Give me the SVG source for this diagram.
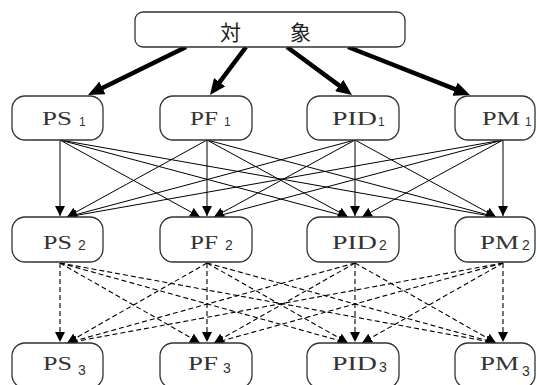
<svg xmlns="http://www.w3.org/2000/svg" width="537" height="385" viewBox="0 0 537 385">
<style>
.box{fill:#fff;stroke:#333;stroke-width:1.3}
.lbl{font-family:"Liberation Serif",serif;font-size:19px;fill:#333}
.sub{font-family:"Liberation Sans",sans-serif;fill:#333}
.s1{font-size:12px}
.s2{font-size:14px}
.cjk{font-family:"Noto Sans CJK JP",sans-serif;font-size:21px;fill:#222}
.bold{stroke:#000;stroke-width:4.5;fill:none;marker-end:url(#big)}
.thin{stroke:#000;stroke-width:1;fill:none;marker-end:url(#tri)}
.dash{stroke:#000;stroke-width:1.1;fill:none;stroke-dasharray:5 3;marker-end:url(#tri)}
</style>
<defs>
<marker id="tri" markerUnits="userSpaceOnUse" markerWidth="10" markerHeight="10" viewBox="0 0 10 10" refX="10" refY="5" orient="auto"><path d="M0,0 L10,5 L0,10 z" fill="#000"/></marker>
<marker id="big" markerUnits="userSpaceOnUse" markerWidth="16" markerHeight="14" viewBox="0 0 16 14" refX="4" refY="7" orient="auto"><path d="M0,0 L16,7 L0,14 z" fill="#000"/></marker>
</defs>
<rect width="537" height="385" fill="#fff"/>
<g id="connectors">
<line class="bold" x1="186" y1="47" x2="98.8" y2="89.7"/>
<line class="bold" x1="246" y1="47" x2="217.2" y2="85.4"/>
<line class="bold" x1="287" y1="47" x2="342.4" y2="87.9"/>
<line class="bold" x1="348" y1="47" x2="458.8" y2="90.6"/>
<line class="thin" x1="60" y1="140" x2="60" y2="216"/>
<line class="thin" x1="60" y1="140" x2="200" y2="217"/>
<line class="thin" x1="60" y1="140" x2="348" y2="217"/>
<line class="thin" x1="60" y1="140" x2="496" y2="217"/>
<line class="thin" x1="207" y1="140" x2="67" y2="217"/>
<line class="thin" x1="207" y1="140" x2="207" y2="216"/>
<line class="thin" x1="207" y1="140" x2="348" y2="217"/>
<line class="thin" x1="207" y1="140" x2="496" y2="217"/>
<line class="thin" x1="355" y1="140" x2="67" y2="217"/>
<line class="thin" x1="355" y1="140" x2="214" y2="217"/>
<line class="thin" x1="355" y1="140" x2="355" y2="216"/>
<line class="thin" x1="355" y1="140" x2="496" y2="217"/>
<line class="thin" x1="503" y1="140" x2="67" y2="217"/>
<line class="thin" x1="503" y1="140" x2="214" y2="217"/>
<line class="thin" x1="503" y1="140" x2="362" y2="217"/>
<line class="thin" x1="503" y1="140" x2="503" y2="216"/>
<line class="dash" x1="60" y1="263" x2="60" y2="342"/>
<line class="dash" x1="60" y1="263" x2="200" y2="343"/>
<line class="dash" x1="60" y1="263" x2="348" y2="343"/>
<line class="dash" x1="60" y1="263" x2="496" y2="343"/>
<line class="dash" x1="207" y1="263" x2="67" y2="343"/>
<line class="dash" x1="207" y1="263" x2="207" y2="342"/>
<line class="dash" x1="207" y1="263" x2="348" y2="343"/>
<line class="dash" x1="207" y1="263" x2="496" y2="343"/>
<line class="dash" x1="355" y1="263" x2="67" y2="343"/>
<line class="dash" x1="355" y1="263" x2="214" y2="343"/>
<line class="dash" x1="355" y1="263" x2="355" y2="342"/>
<line class="dash" x1="355" y1="263" x2="496" y2="343"/>
<line class="dash" x1="503" y1="263" x2="67" y2="343"/>
<line class="dash" x1="503" y1="263" x2="214" y2="343"/>
<line class="dash" x1="503" y1="263" x2="362" y2="343"/>
<line class="dash" x1="503" y1="263" x2="503" y2="342"/>
</g>
<g id="top">
<rect class="box" x="135" y="12" width="270" height="35" rx="8"/>
<text class="cjk" x="220 290" y="40">対象</text>
</g>
<g id="PS1"><rect class="box" x="12" y="96" width="91" height="44" rx="13"/><text class="lbl" x="42" y="125" textLength="30" lengthAdjust="spacingAndGlyphs">PS</text><text class="sub s1" x="79" y="126">1</text></g>
<g id="PF1"><rect class="box" x="160" y="96" width="92" height="44" rx="13"/><text class="lbl" x="190" y="125" textLength="28" lengthAdjust="spacingAndGlyphs">PF</text><text class="sub s1" x="224" y="126">1</text></g>
<g id="PID1"><rect class="box" x="307" y="96" width="92" height="44" rx="13"/><text class="lbl" x="332" y="125" textLength="45" lengthAdjust="spacingAndGlyphs">PID</text><text class="sub s1" x="378" y="126">1</text></g>
<g id="PM1"><rect class="box" x="455" y="96" width="80" height="44" rx="13"/><text class="lbl" x="482" y="125" textLength="38" lengthAdjust="spacingAndGlyphs">PM</text><text class="sub s1" x="525" y="126">1</text></g>
<g id="PS2"><rect class="box" x="12" y="217" width="91" height="45" rx="13"/><text class="lbl" x="43" y="249" textLength="29" lengthAdjust="spacingAndGlyphs">PS</text><text class="sub s2" x="78" y="250">2</text></g>
<g id="PF2"><rect class="box" x="160" y="217" width="92" height="45" rx="13"/><text class="lbl" x="190" y="249" textLength="28" lengthAdjust="spacingAndGlyphs">PF</text><text class="sub s2" x="225" y="250">2</text></g>
<g id="PID2"><rect class="box" x="307" y="217" width="92" height="45" rx="13"/><text class="lbl" x="332" y="249" textLength="45" lengthAdjust="spacingAndGlyphs">PID</text><text class="sub s2" x="379" y="250">2</text></g>
<g id="PM2"><rect class="box" x="455" y="217" width="80" height="45" rx="13"/><text class="lbl" x="480" y="249" textLength="39" lengthAdjust="spacingAndGlyphs">PM</text><text class="sub s2" x="522" y="250">2</text></g>
<g id="PS3"><rect class="box" x="12" y="343" width="91" height="45" rx="13"/><text class="lbl" x="43" y="370" textLength="29" lengthAdjust="spacingAndGlyphs">PS</text><text class="sub s2" x="78" y="375">3</text></g>
<g id="PF3"><rect class="box" x="160" y="343" width="92" height="45" rx="13"/><text class="lbl" x="188" y="370" textLength="30" lengthAdjust="spacingAndGlyphs">PF</text><text class="sub s2" x="223" y="373">3</text></g>
<g id="PID3"><rect class="box" x="307" y="343" width="92" height="45" rx="13"/><text class="lbl" x="332" y="370" textLength="45" lengthAdjust="spacingAndGlyphs">PID</text><text class="sub s2" x="379" y="372">3</text></g>
<g id="PM3"><rect class="box" x="455" y="343" width="80" height="45" rx="13"/><text class="lbl" x="480" y="370" textLength="39" lengthAdjust="spacingAndGlyphs">PM</text><text class="sub s2" x="522" y="376">3</text></g>
</svg>
